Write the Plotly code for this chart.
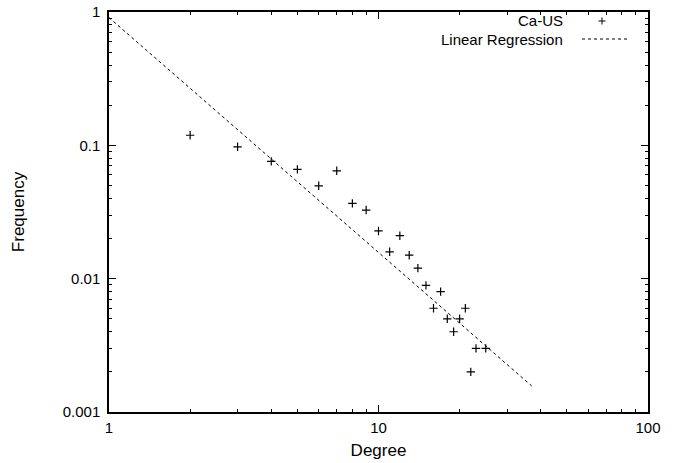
import plotly.graph_objects as go

# Data (degree distribution, log-log)
degree = [2, 3, 4, 5, 6, 7, 8, 9, 10, 11, 12, 13, 14, 15, 16, 17, 18, 19, 20, 21, 22, 23, 25]
frequency = [0.119, 0.0975, 0.0758, 0.066, 0.0497, 0.0644, 0.0367, 0.0327, 0.0228,
             0.0159, 0.021, 0.0150, 0.0120, 0.0089, 0.0060, 0.0080, 0.0050, 0.0040,
             0.0050, 0.0060, 0.0020, 0.0030, 0.0030]

reg_x = [1, 37]
reg_y = [0.908, 0.00157]

x_tickvals = [1, 10, 100]
x_ticktext = ["1", "10", "100"]
y_tickvals = [0.001, 0.01, 0.1, 1]
y_ticktext = ["0.001", "0.01", "0.1", "1"]
x_minor = [2, 3, 4, 5, 6, 7, 8, 9, 20, 30, 40, 50, 60, 70, 80, 90]
y_minor = [0.002, 0.003, 0.004, 0.005, 0.006, 0.007, 0.008, 0.009,
           0.02, 0.03, 0.04, 0.05, 0.06, 0.07, 0.08, 0.09,
           0.2, 0.3, 0.4, 0.5, 0.6, 0.7, 0.8, 0.9]

legend_labels = ["Ca-US", "Linear Regression"]

FONT = "Liberation Sans, Arial, Helvetica, sans-serif"

W, H = 683, 463
PAGE_L, PAGE_T, PAGE_R, PAGE_B = 109, 12, 648, 412
L, T = PAGE_L, PAGE_T
R, B = W - PAGE_R, H - PAGE_B
PW, PH = PAGE_R - PAGE_L, PAGE_B - PAGE_T

fig = go.Figure()
fig.add_trace(go.Scatter(
    x=degree, y=frequency, mode="markers", name=legend_labels[0],
    marker=dict(symbol="cross-thin", size=6, color="black",
                line=dict(color="black", width=1.2)),
    showlegend=False,
))
fig.add_trace(go.Scatter(
    x=reg_x, y=reg_y, mode="lines", name=legend_labels[1],
    line=dict(color="black", width=1, dash="3px,3px"),
    showlegend=False,
))

axis_common = dict(
    showgrid=False, zeroline=False, showline=True, linecolor="black",
    linewidth=1.5, mirror="ticks", ticks="inside", ticklen=7, tickwidth=1,
    tickcolor="black", tickfont=dict(family=FONT, size=15, color="black"),
    automargin=False, ticklabeloverflow="allow",
)

fig.update_xaxes(
    type="log", range=[0, 2], tickvals=x_tickvals, ticktext=x_ticktext,
    title=dict(text="Degree", font=dict(family=FONT, size=17, color="black"), standoff=9),
    minor=dict(tickvals=x_minor, ticks="inside", ticklen=3.5, tickwidth=1, tickcolor="black"),
    ticklabelstandoff=1,
    **axis_common,
)
fig.update_yaxes(
    type="log", range=[-3, 0], tickvals=y_tickvals, ticktext=y_ticktext,
    title=dict(text="Frequency", font=dict(family=FONT, size=17, color="black"), standoff=34),
    minor=dict(tickvals=y_minor, ticks="inside", ticklen=3.5, tickwidth=1, tickcolor="black"),
    ticklabelstandoff=4,
    **axis_common,
)

# Legend drawn gnuplot-style: text right-aligned, sample to the right
def px(page_x):
    return (page_x - PAGE_L) / PW

def py(page_y):
    return (PAGE_B - page_y) / PH

ly1, ly2 = py(21), py(39)
for lab, ly in zip(legend_labels, [ly1, ly2]):
    fig.add_annotation(x=px(565), y=ly, xref="paper", yref="paper", text=lab,
                       showarrow=False, xanchor="right", yanchor="middle",
                       font=dict(family=FONT, size=15, color="black"))

cx = px(602)
dx = 3.5 / PW
dy = 3.5 / PH
fig.add_shape(type="line", xref="paper", yref="paper", x0=cx - dx, x1=cx + dx, y0=ly1, y1=ly1,
              line=dict(color="black", width=1))
fig.add_shape(type="line", xref="paper", yref="paper", x0=cx, x1=cx, y0=ly1 - dy, y1=ly1 + dy,
              line=dict(color="black", width=1))
fig.add_shape(type="line", xref="paper", yref="paper",
              x0=px(582), x1=px(629), y0=ly2, y1=ly2,
              line=dict(color="black", width=1, dash="3px,3px"))

fig.update_layout(
    width=W, height=H,
    margin=dict(l=L, r=R, t=T, b=B, autoexpand=False),
    paper_bgcolor="white", plot_bgcolor="white",
    font=dict(family=FONT, color="black"),
    showlegend=False,
)

# Remove the default 8px page margin so the figure sits at the window origin
fig.write_html("out.html",
               config={"displayModeBar": False},
               post_script="document.body.style.margin='0';document.body.style.overflow='hidden';")
